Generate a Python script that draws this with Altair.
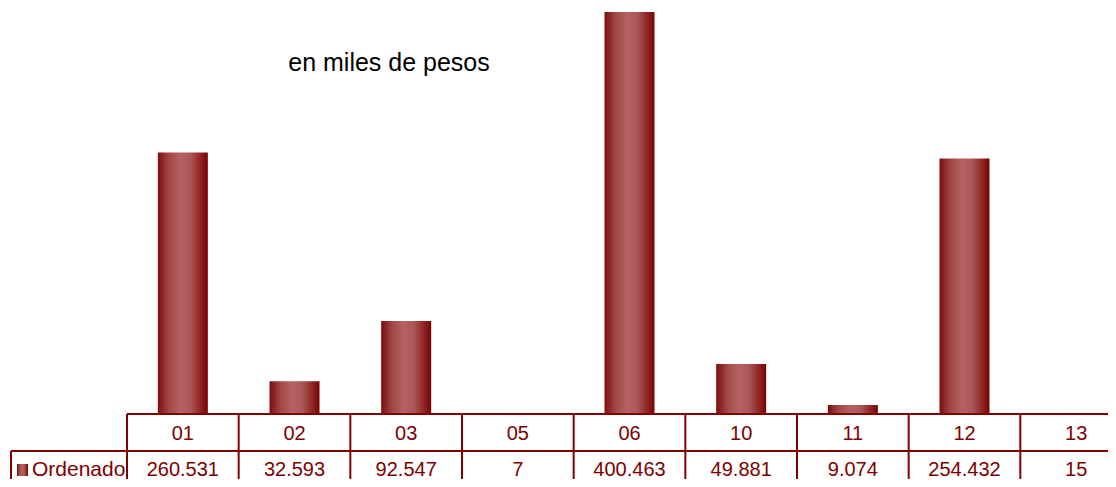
import altair as alt
import pandas as pd

categories = ["01", "02", "03", "05", "06", "10", "11", "12", "13"]
values = [260531, 32593, 92547, 7, 400463, 49881, 9074, 254432, 15]
labels = ["260.531", "32.593", "92.547", "7", "400.463", "49.881", "9.074", "254.432", "15"]
series_name = "Ordenado"
title_text = "en miles de pesos"

df = pd.DataFrame({"cat": categories, "val": values, "lab": labels})
one = pd.DataFrame({"k": [0]})

DARK = "#800000"
FONT = "Liberation Sans"
W, H = 1005, 406

grad = alt.Gradient(
    gradient="linear",
    stops=[
        alt.GradientStop(color="#7e0c0c", offset=0),
        alt.GradientStop(color="#a04848", offset=0.22),
        alt.GradientStop(color="#b56262", offset=0.45),
        alt.GradientStop(color="#ad5858", offset=0.65),
        alt.GradientStop(color="#7a0000", offset=1),
    ],
    x1=0, x2=1, y1=0, y2=0,
)

xs = alt.Scale(domain=categories, paddingInner=0, paddingOuter=0)
xenc = alt.X("cat:N", scale=xs, axis=None, sort=categories)

base = alt.Chart(df)

bars = base.mark_bar(size=50, color=grad).encode(
    x=xenc,
    y=alt.Y("val:Q", scale=alt.Scale(domain=[0, 404450]), axis=None),
)

vlines = base.mark_rule(color=DARK, strokeWidth=2).encode(
    x=alt.X("cat:N", scale=xs, axis=None, sort=categories, bandPosition=0),
    y=alt.value(H),
    y2=alt.value(H + 80),
)

cat_text = base.mark_text(fontSize=20, font=FONT, color=DARK, baseline="middle").encode(
    x=xenc, y=alt.value(H + 20), text="cat:N"
)
val_text = base.mark_text(fontSize=20, font=FONT, color=DARK, baseline="middle").encode(
    x=xenc, y=alt.value(H + 56), text="lab:N"
)

c1 = alt.Chart(one)
top_line = c1.mark_rule(color=DARK, strokeWidth=2).encode(
    x=alt.value(0), x2=alt.value(W + 30), y=alt.value(H)
)
mid_line = c1.mark_rule(color=DARK, strokeWidth=2).encode(
    x=alt.value(-116), x2=alt.value(W + 30), y=alt.value(H + 37)
)
left_line = c1.mark_rule(color=DARK, strokeWidth=2).encode(
    x=alt.value(-116), y=alt.value(H + 37), y2=alt.value(H + 80)
)
key = c1.mark_rect(color=grad).encode(
    x=alt.value(-110), x2=alt.value(-99), y=alt.value(H + 50), y2=alt.value(H + 62)
)
key_text = c1.mark_text(fontSize=21, font=FONT, color=DARK, align="left", baseline="middle").encode(
    x=alt.value(-95), y=alt.value(H + 56), text=alt.value(series_name)
)
title = c1.mark_text(fontSize=25, font=FONT, color="black", align="center", baseline="alphabetic").encode(
    x=alt.value(262), y=alt.value(63), text=alt.value(title_text)
)

chart = alt.layer(
    bars, vlines, top_line, mid_line, left_line, cat_text, val_text, key, key_text, title
).properties(
    width=W,
    height=H,
    autosize=alt.AutoSizeParams(type="none"),
    padding={"left": 119, "top": 0, "right": -24, "bottom": 65},
    background="white",
).configure_view(stroke=None)

chart.save("out.html", embed_options={"renderer": "svg", "actions": False})
